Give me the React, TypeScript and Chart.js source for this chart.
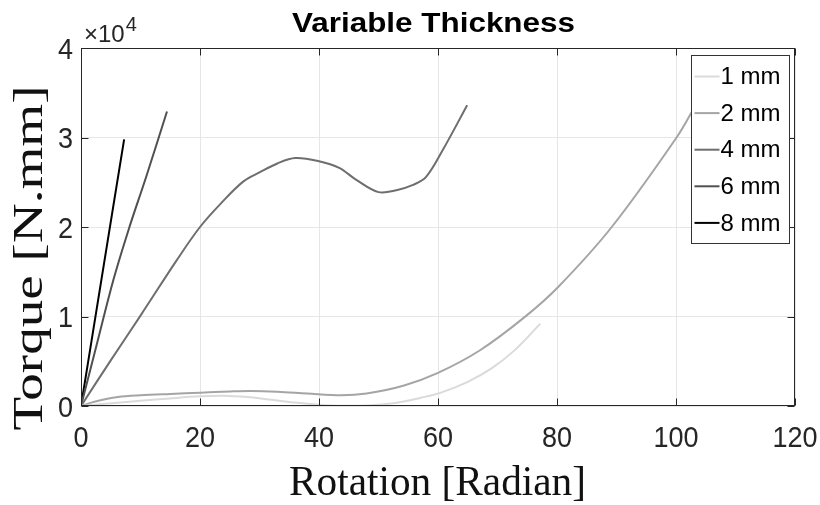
import React, { useEffect, useRef } from "react";
import { Chart, registerables } from "chart.js";

Chart.register(...registerables);

const TITLE = "Variable Thickness";
const X_LABEL = "Rotation [Radian]";
const Y_LABEL = "Torque [N.mm]";
const X_TICKS = [0, 20, 40, 60, 80, 100, 120];
const Y_TICKS = [0, 10000, 20000, 30000, 40000];
const Y_EXPONENT = 4;

const SERIES_LABELS = ["1 mm", "2 mm", "4 mm", "6 mm", "8 mm"];
const SERIES_COLORS = ["#dadada", "#a5a5a5", "#6e6e6e", "#505050", "#000000"];

const x1mm = [0, 6.2, 10, 15, 20, 24, 28, 32, 36, 40, 44, 48, 51, 54, 57, 60.5, 65, 69, 73, 77.2];
const y1mm = [0, 370, 580, 850, 1080, 1150, 1000, 700, 380, 150, 30, 60, 200, 480, 900, 1500, 2700, 4200, 6300, 9200];

const x2mm = [0, 2.4, 6.2, 10, 15, 20, 25, 28.5, 33, 38, 43.7, 48, 54.3, 60, 67, 74.5, 80.2, 89.2, 100.1, 103.2];
const y2mm = [0, 500, 1000, 1200, 1350, 1480, 1620, 1680, 1600, 1400, 1200, 1400, 2300, 3700, 6200, 9900, 13300, 20000, 30000, 33500];

const x4mm = [0, 5, 10, 16.1, 20, 23.6, 27.3, 30, 33, 36, 40, 43.4, 46.2, 50, 53, 55.8, 58, 60.8, 64.9];
const y4mm = [0, 5100, 10100, 16300, 20000, 22700, 25100, 26100, 27100, 27700, 27350, 26600, 25300, 23900, 24100, 24700, 25600, 28600, 33600];

const x6mm = [0, 2.7, 5.45, 8, 11, 14.45];
const y6mm = [0, 7000, 14100, 19700, 25700, 32900];

const x8mm = [0, 3.5, 7.25];
const y8mm = [0, 14400, 29800];

const SERIES_X = [x1mm, x2mm, x4mm, x6mm, x8mm];
const SERIES_Y = [y1mm, y2mm, y4mm, y6mm, y8mm];

const SANS = '"Liberation Sans", Arial, sans-serif';
const SERIF = '"Liberation Serif", "Times New Roman", serif';
const AXIS_COLOR = "#262626";

function fitText(ctx: CanvasRenderingContext2D, text: string, x: number, y: number, width: number, rot = 0) {
  const w = ctx.measureText(text).width;
  ctx.save();
  ctx.translate(x, y);
  if (rot) ctx.rotate(rot);
  ctx.scale(width / w, 1);
  ctx.fillText(text, 0, 0);
  ctx.restore();
}

const decor = {
  id: "decor",
  afterDatasetsDraw(chart: any) {
    const { ctx, chartArea: a, scales } = chart;
    const xs = scales.x;
    const ys = scales.y;
    ctx.save();
    ctx.strokeStyle = AXIS_COLOR;
    ctx.lineWidth = 1;
    const L = Math.round(a.left) + 0.5;
    const R = Math.round(a.right) - 0.5;
    const T = Math.round(a.top) + 0.5;
    const B = Math.round(a.bottom) - 0.5;
    ctx.strokeRect(L, T, R - L, B - T);
    ctx.beginPath();
    for (const t of xs.ticks) {
      const px = Math.round(xs.getPixelForValue(t.value)) + 0.5;
      ctx.moveTo(px, B);
      ctx.lineTo(px, B - 7);
      ctx.moveTo(px, T);
      ctx.lineTo(px, T + 7);
    }
    for (const t of ys.ticks) {
      const py = Math.round(ys.getPixelForValue(t.value)) + 0.5;
      ctx.moveTo(L, py);
      ctx.lineTo(L + 7, py);
      ctx.moveTo(R, py);
      ctx.lineTo(R - 7, py);
    }
    ctx.stroke();

    // tick labels (positions from the library's scales)
    ctx.fillStyle = AXIS_COLOR;
    ctx.font = `30px ${SANS}`;
    ctx.textBaseline = "alphabetic";
    ctx.textAlign = "center";
    for (const t of xs.ticks) {
      const px = xs.getPixelForValue(t.value);
      ctx.save();
      ctx.translate(px, a.bottom + 41);
      ctx.scale(0.9, 1);
      ctx.fillText(String(t.value), 0, 0);
      ctx.restore();
    }
    ctx.textAlign = "right";
    for (const t of ys.ticks) {
      const py = ys.getPixelForValue(t.value);
      ctx.save();
      ctx.translate(a.left - 8, py + 10.5);
      ctx.scale(0.9, 1);
      ctx.fillText(String(t.value / Math.pow(10, Y_EXPONENT)), 0, 0);
      ctx.restore();
    }

    // legend
    const lx = Math.round(a.right) - 103.5;
    const ly = Math.round(a.top) + 7.5;
    const lw = 98;
    const lh = 188;
    ctx.fillStyle = "#ffffff";
    ctx.fillRect(lx, ly, lw, lh);
    ctx.strokeStyle = "#333333";
    ctx.lineWidth = 1;
    ctx.strokeRect(lx, ly, lw, lh);
    ctx.font = `24px ${SANS}`;
    ctx.textBaseline = "middle";
    ctx.textAlign = "left";
    chart.data.datasets.forEach((ds: any, i: number) => {
      const cy = ly + 21 + i * 36.6;
      ctx.strokeStyle = ds.borderColor;
      ctx.lineWidth = 2;
      ctx.beginPath();
      ctx.moveTo(lx + 3, cy);
      ctx.lineTo(lx + 28, cy);
      ctx.stroke();
      ctx.fillStyle = "#000000";
      ctx.fillText(ds.label, lx + 29, cy + 1);
    });
    ctx.restore();
  },
  afterDraw(chart: any) {
    const { ctx, chartArea: a } = chart;
    ctx.save();
    ctx.fillStyle = "#000000";
    ctx.textBaseline = "alphabetic";
    ctx.font = `bold 28px ${SANS}`;
    ctx.textAlign = "center";
    fitText(ctx, TITLE, 433.5, 32, 283);

    ctx.fillStyle = AXIS_COLOR;
    ctx.textAlign = "left";
    ctx.font = `24px ${SANS}`;
    ctx.fillText("\u00d710", a.left + 3, 42);
    const w = ctx.measureText("\u00d710").width;
    ctx.font = `20px ${SANS}`;
    ctx.fillText(String(Y_EXPONENT), a.left + 3 + w + 1, 31);

    ctx.fillStyle = "#111111";
    ctx.font = `42px ${SERIF}`;
    ctx.textAlign = "center";
    fitText(ctx, X_LABEL, 437.5, 495, 297);

    ctx.font = `43px ${SERIF}`;
    fitText(ctx, Y_LABEL, 42, 258, 345, -Math.PI / 2);
    ctx.restore();
  },
};

export default function App() {
  const ref = useRef<HTMLCanvasElement | null>(null);
  useEffect(() => {
    if (!ref.current) return;
    const datasets = SERIES_LABELS.map((label, i) => ({
      label,
      data: SERIES_X[i].map((xv, j) => ({ x: xv, y: SERIES_Y[i][j] })),
      borderColor: SERIES_COLORS[i],
      backgroundColor: SERIES_COLORS[i],
      borderWidth: 2,
      pointRadius: 0,
      tension: 0.35,
      fill: false,
    }));
    const chart = new Chart(ref.current, {
      type: "line",
      data: { datasets },
      plugins: [decor],
      options: {
        animation: false,
        responsive: false,
        layout: { padding: { top: 48, right: 25, left: 0, bottom: 0 } },
        plugins: {
          legend: { display: false },
          title: { display: false },
          tooltip: { enabled: false },
        },
        scales: {
          x: {
            type: "linear",
            min: 0,
            max: 120,
            afterBuildTicks: (s: any) => {
              s.ticks = X_TICKS.map((v) => ({ value: v }));
            },
            afterFit: (s: any) => {
              s.height = 99;
            },
            grid: { color: "#e6e6e6", lineWidth: 1, drawTicks: false },
            border: { display: false },
            ticks: { display: false },
          },
          y: {
            type: "linear",
            min: 0,
            max: 40000,
            afterBuildTicks: (s: any) => {
              s.ticks = Y_TICKS.map((v) => ({ value: v }));
            },
            afterFit: (s: any) => {
              s.width = 81;
            },
            grid: { color: "#e6e6e6", lineWidth: 1, drawTicks: false },
            border: { display: false },
            ticks: { display: false },
          },
        },
      },
    });
    return () => chart.destroy();
  }, []);
  return (
    <div style={{ position: "absolute", left: 0, top: 0, width: 820, height: 505, background: "#fff" }}>
      <canvas ref={ref} width={820} height={505} style={{ display: "block" }} />
    </div>
  );
}
